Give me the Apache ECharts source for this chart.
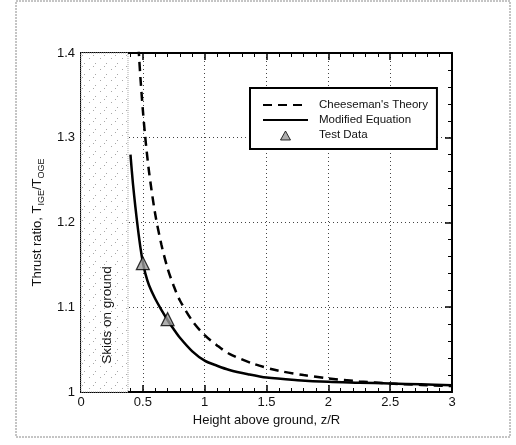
<!DOCTYPE html>
<html>
<head>
<meta charset="utf-8">
<script src="https://cdn.jsdelivr.net/npm/echarts@6/dist/echarts.min.js"></script>
<style>
  html, body { margin: 0; padding: 0; background: #fff; }
  #chart { width: 516px; height: 445px; }
</style>
</head>
<body>
<div id="chart"></div>
<script>
// Height above ground z/R and thrust ratio T_IGE/T_OGE
const cheesemanX = [0.465, 0.47, 0.48, 0.50, 0.52, 0.55, 0.60, 0.65, 0.70, 0.75, 0.80, 0.90, 1.00, 1.10, 1.20, 1.40, 1.60, 1.80, 2.00, 2.25, 2.50, 2.75, 3.00];
const cheesemanY = [1.407, 1.395, 1.372, 1.333, 1.300, 1.260, 1.210, 1.174, 1.146, 1.125, 1.108, 1.084, 1.067, 1.055, 1.045, 1.033, 1.025, 1.020, 1.016, 1.0125, 1.010, 1.0083, 1.007];

const modifiedX = [0.40, 0.42, 0.44, 0.46, 0.48, 0.50, 0.52, 0.55, 0.60, 0.65, 0.70, 0.75, 0.80, 0.90, 1.00, 1.10, 1.20, 1.35, 1.50, 1.75, 2.00, 2.25, 2.50, 2.75, 3.00];
const modifiedY = [1.280, 1.246, 1.218, 1.193, 1.171, 1.153, 1.140, 1.126, 1.110, 1.097, 1.085, 1.074, 1.064, 1.048, 1.037, 1.031, 1.026, 1.021, 1.017, 1.014, 1.012, 1.011, 1.010, 1.009, 1.008];

const testX = [0.50, 0.70];
const testY = [1.152, 1.086];

// Region where the skids touch the ground
const skidsLimit = 0.38;

const xTicks = { min: 0, max: 3, interval: 0.5 };
const yTicks = { min: 1.0, max: 1.4, interval: 0.1 };

const zip = (xs, ys) => xs.map((x, i) => [x, ys[i]]);

// Sparse dot texture for the skids region
const dots = document.createElement('canvas');
dots.width = 11; dots.height = 11;
const dc = dots.getContext('2d');
dc.fillStyle = '#fff';
dc.fillRect(0, 0, 11, 11);
dc.fillStyle = '#a8a8a8';
dc.fillRect(1, 3, 1, 1);
dc.fillRect(7, 8, 1, 1);
dc.fillRect(5, 0, 1, 1);

const font = 'Liberation Sans, Arial, sans-serif';

const chart = echarts.init(document.getElementById('chart'), null, { renderer: 'canvas' });

const baseAxis = {
  axisLine: { show: true, onZero: false, lineStyle: { color: '#000', width: 2 } },
  axisTick: { show: true, inside: true, length: 7, lineStyle: { color: '#000', width: 1.5 } },
  minorTick: { show: true, splitNumber: 5, length: 4, lineStyle: { color: '#000', width: 1 } },
  minorSplitLine: { show: false }
};

const hiddenSymbol = { color: 'rgba(0,0,0,0)', borderColor: 'rgba(0,0,0,0)', borderWidth: 0, opacity: 0 };
// Small triangle centred in the 45x10 legend icon box
const legendTriangle = 'path://M0,0 M45,10 M17.5,10 L22.5,1 L27.5,10 Z';

chart.setOption({
  animation: false,
  backgroundColor: '#fff',
  grid: { left: 81, right: 64, top: 53, bottom: 53, show: false },
  graphic: [
    {
      type: 'rect', z: 0, silent: true,
      shape: { x: 16, y: 1, width: 494, height: 436 },
      style: { fill: 'none', stroke: '#8a8a8a', lineWidth: 1, lineDash: [2, 1] }
    },
    {
      type: 'text', z: 50, silent: true,
      x: 107, y: 315, rotation: Math.PI / 2,
      style: { text: 'Skids on ground', font: '13.5px ' + font, fill: '#111', align: 'center', verticalAlign: 'middle' }
    }
  ],
  legend: {
    orient: 'vertical',
    left: 250, top: 88,
    padding: [11, 9, 8, 12],
    itemWidth: 45, itemHeight: 10, itemGap: 3,
    backgroundColor: '#fff',
    borderColor: '#000', borderWidth: 2,
    textStyle: { fontFamily: font, fontSize: 11.5, lineHeight: 11, color: '#111', padding: [0, 0, 0, 6] },
    data: [
      { name: "Cheeseman's Theory", itemStyle: hiddenSymbol },
      { name: 'Modified Equation', itemStyle: hiddenSymbol },
      { name: 'Test Data', icon: legendTriangle, itemStyle: { color: '#9a9a9a', borderColor: '#000', borderWidth: 1 } }
    ],
    z: 20
  },
  xAxis: [
    Object.assign({}, baseAxis, {
      type: 'value', position: 'bottom',
      min: xTicks.min, max: xTicks.max, interval: xTicks.interval,
      name: 'Height above ground, z/R', nameLocation: 'middle', nameGap: 19,
      nameTextStyle: { fontFamily: font, fontSize: 13, color: '#111' },
      axisLabel: { fontFamily: font, fontSize: 13, color: '#111', margin: 4 },
      splitLine: { show: true, lineStyle: { color: '#444', width: 1, type: [1, 3] } }
    }),
    Object.assign({}, baseAxis, {
      type: 'value', position: 'top',
      min: xTicks.min, max: xTicks.max, interval: xTicks.interval,
      axisLabel: { show: false }, splitLine: { show: false }
    })
  ],
  yAxis: [
    Object.assign({}, baseAxis, {
      type: 'value', position: 'left',
      min: yTicks.min, max: yTicks.max, interval: yTicks.interval,
      name: 'Thrust ratio, T{s|IGE}/T{s|OGE}', nameLocation: 'middle', nameGap: 27,
      nameTextStyle: {
        fontFamily: font, fontSize: 13, color: '#111', verticalAlign: 'bottom',
        rich: { s: { fontFamily: font, fontSize: 9, color: '#111', verticalAlign: 'bottom', padding: [0, 0, -2, 0] } }
      },
      axisLabel: { fontFamily: font, fontSize: 13, color: '#111', margin: 6 },
      splitLine: { show: true, lineStyle: { color: '#444', width: 1, type: [1, 3] } }
    }),
    Object.assign({}, baseAxis, {
      type: 'value', position: 'right',
      min: yTicks.min, max: yTicks.max, interval: yTicks.interval,
      axisLabel: { show: false }, splitLine: { show: false }
    })
  ],
  series: [
    {
      name: "Cheeseman's Theory",
      type: 'line', smooth: 0.3, showSymbol: false, symbol: 'none', z: 4,
      data: zip(cheesemanX, cheesemanY),
      lineStyle: { color: '#000', width: 2.5, type: [9, 6] },
      itemStyle: { color: '#000' },
      markArea: {
        silent: true,
        itemStyle: { color: { image: dots, repeat: 'repeat' }, borderColor: '#aaa', borderWidth: 1, borderType: 'dotted' },
        data: [[{ xAxis: 0, yAxis: yTicks.min }, { xAxis: skidsLimit, yAxis: yTicks.max }]]
      }
    },
    {
      name: 'Modified Equation',
      type: 'line', smooth: 0.3, showSymbol: false, symbol: 'none', z: 5,
      data: zip(modifiedX, modifiedY),
      lineStyle: { color: '#000', width: 2.5 },
      itemStyle: { color: '#000' }
    },
    {
      name: 'Test Data',
      type: 'scatter', symbol: 'triangle', symbolSize: 13, z: 6,
      data: zip(testX, testY),
      itemStyle: { color: '#9a9a9a', borderColor: '#000', borderWidth: 1.2 }
    }
  ]
});
</script>
</body>
</html>
